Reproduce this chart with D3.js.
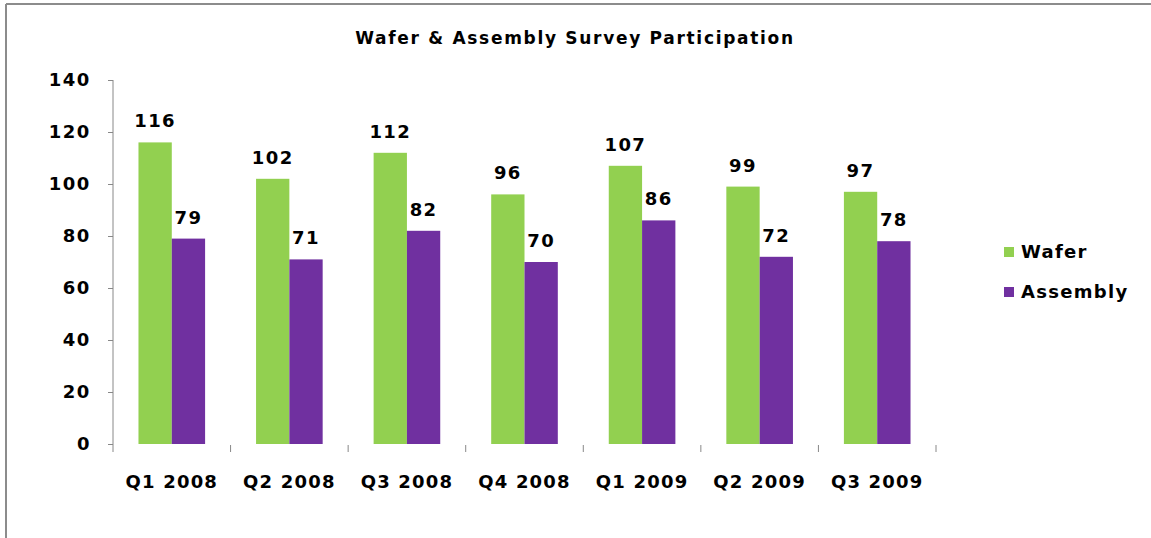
<!DOCTYPE html>
<html lang="en">
<head>
  <meta charset="UTF-8" />
  <title>Wafer & Assembly Survey Participation</title>
  <script src="https://d3js.org/d3.v7.min.js"></script>
  <style>
    body { margin: 0; background: #fff; }
    text { font-family: "DejaVu Sans", Verdana, sans-serif; font-weight: bold; fill: #000; }
  </style>
</head>
<body>
  <svg id="chart" width="1151" height="538"></svg>

  <script>
    // Chart data
    const categories = ["Q1 2008", "Q2 2008", "Q3 2008", "Q4 2008", "Q1 2009", "Q2 2009", "Q3 2009"];
    const seriesNames = ["Wafer", "Assembly"];
    const waferValues = [116, 102, 112, 96, 107, 99, 97];
    const assemblyValues = [79, 71, 82, 70, 86, 72, 78];
    const yTicks = [0, 20, 40, 60, 80, 100, 120, 140];
    const colors = ["#92D050", "#7030A0"];

    const svg = d3.select("#chart");
    const width = +svg.attr("width");
    const height = +svg.attr("height");

    // Frame of the chart area (gray border on top and left)
    svg.append("line")
      .attr("x1", 6).attr("x2", width).attr("y1", 4).attr("y2", 4)
      .attr("stroke", "#8c8c8c").attr("stroke-width", 2);
    svg.append("line")
      .attr("x1", 6).attr("x2", 6).attr("y1", 4).attr("y2", height)
      .attr("stroke", "#8c8c8c").attr("stroke-width", 2);

    const margin = { top: 80, right: 215, bottom: 94, left: 113 };

    const x0 = d3.scaleBand()
      .domain(categories)
      .range([margin.left, width - margin.right])
      .paddingInner(0)
      .paddingOuter(0);

    const x1 = d3.scaleBand()
      .domain(seriesNames)
      .range([0, x0.bandwidth()])
      .paddingOuter(0.765)
      .paddingInner(0);

    const y = d3.scaleLinear()
      .domain([0, 140])
      .range([height - margin.bottom, margin.top]);

    // Title
    svg.append("text")
      .attr("x", 575)
      .attr("y", 44)
      .attr("text-anchor", "middle")
      .attr("font-size", "17px")
      .attr("letter-spacing", "1.7px")
      .text("Wafer & Assembly Survey Participation");

    // Y axis
    const yAxis = svg.append("g")
      .attr("transform", `translate(${margin.left},0)`)
      .call(d3.axisLeft(y).tickValues(yTicks).tickSize(5).tickPadding(17));
    yAxis.select(".domain")
      .attr("stroke", "#888")
      .attr("d", `M-0,${y(140)}H0V${y(0) + 8}`);
    yAxis.selectAll(".tick line").attr("stroke", "#888");
    yAxis.selectAll(".tick text")
      .attr("font-size", "18px")
      .attr("letter-spacing", "1.6px")
      .attr("font-family", "DejaVu Sans")
      .attr("font-weight", "bold")
      .attr("fill", "#000");

    // X axis ticks (no visible baseline, ticks hang below zero)
    const xTicksG = svg.append("g");
    xTicksG.selectAll("line")
      .data(categories.slice(1).concat(["end"]))
      .join("line")
      .attr("x1", (d, i) => margin.left + x0.bandwidth() * (i + 1))
      .attr("x2", (d, i) => margin.left + x0.bandwidth() * (i + 1))
      .attr("y1", y(0) + 1)
      .attr("y2", y(0) + 8)
      .attr("stroke", "#888");

    svg.append("g")
      .selectAll("text")
      .data(categories)
      .join("text")
      .attr("x", d => x0(d) + x0.bandwidth() / 2)
      .attr("y", 488)
      .attr("text-anchor", "middle")
      .attr("font-size", "18px")
      .attr("letter-spacing", "1.2px")
      .text(d => d);

    // Bars
    const rows = categories.map((c, i) => ({ cat: c, values: [waferValues[i], assemblyValues[i]] }));

    const groups = svg.append("g")
      .selectAll("g")
      .data(rows)
      .join("g")
      .attr("transform", d => `translate(${x0(d.cat)},0)`);

    groups.selectAll("rect")
      .data(d => d.values.map((v, j) => ({ key: seriesNames[j], value: v, j })))
      .join("rect")
      .attr("x", d => x1(d.key))
      .attr("y", d => y(d.value))
      .attr("width", x1.bandwidth())
      .attr("height", d => y(0) - y(d.value))
      .attr("fill", d => colors[d.j]);

    groups.selectAll("text.val")
      .data(d => d.values.map((v, j) => ({ key: seriesNames[j], value: v, j })))
      .join("text")
      .attr("class", "val")
      .attr("x", d => x1(d.key) + x1.bandwidth() / 2)
      .attr("y", d => y(d.value) - 15)
      .attr("text-anchor", "middle")
      .attr("font-size", "18px")
      .attr("letter-spacing", "1.4px")
      .text(d => d.value);

    // Legend
    const legend = svg.append("g")
      .selectAll("g")
      .data(seriesNames)
      .join("g")
      .attr("transform", (d, i) => `translate(1004,${247 + i * 40})`);
    legend.append("rect")
      .attr("width", 10).attr("height", 10)
      .attr("fill", (d, i) => colors[i]);
    legend.append("text")
      .attr("x", 17)
      .attr("y", 11)
      .attr("font-size", "18px")
      .attr("letter-spacing", "1.3px")
      .text(d => d);
  </script>
</body>
</html>
